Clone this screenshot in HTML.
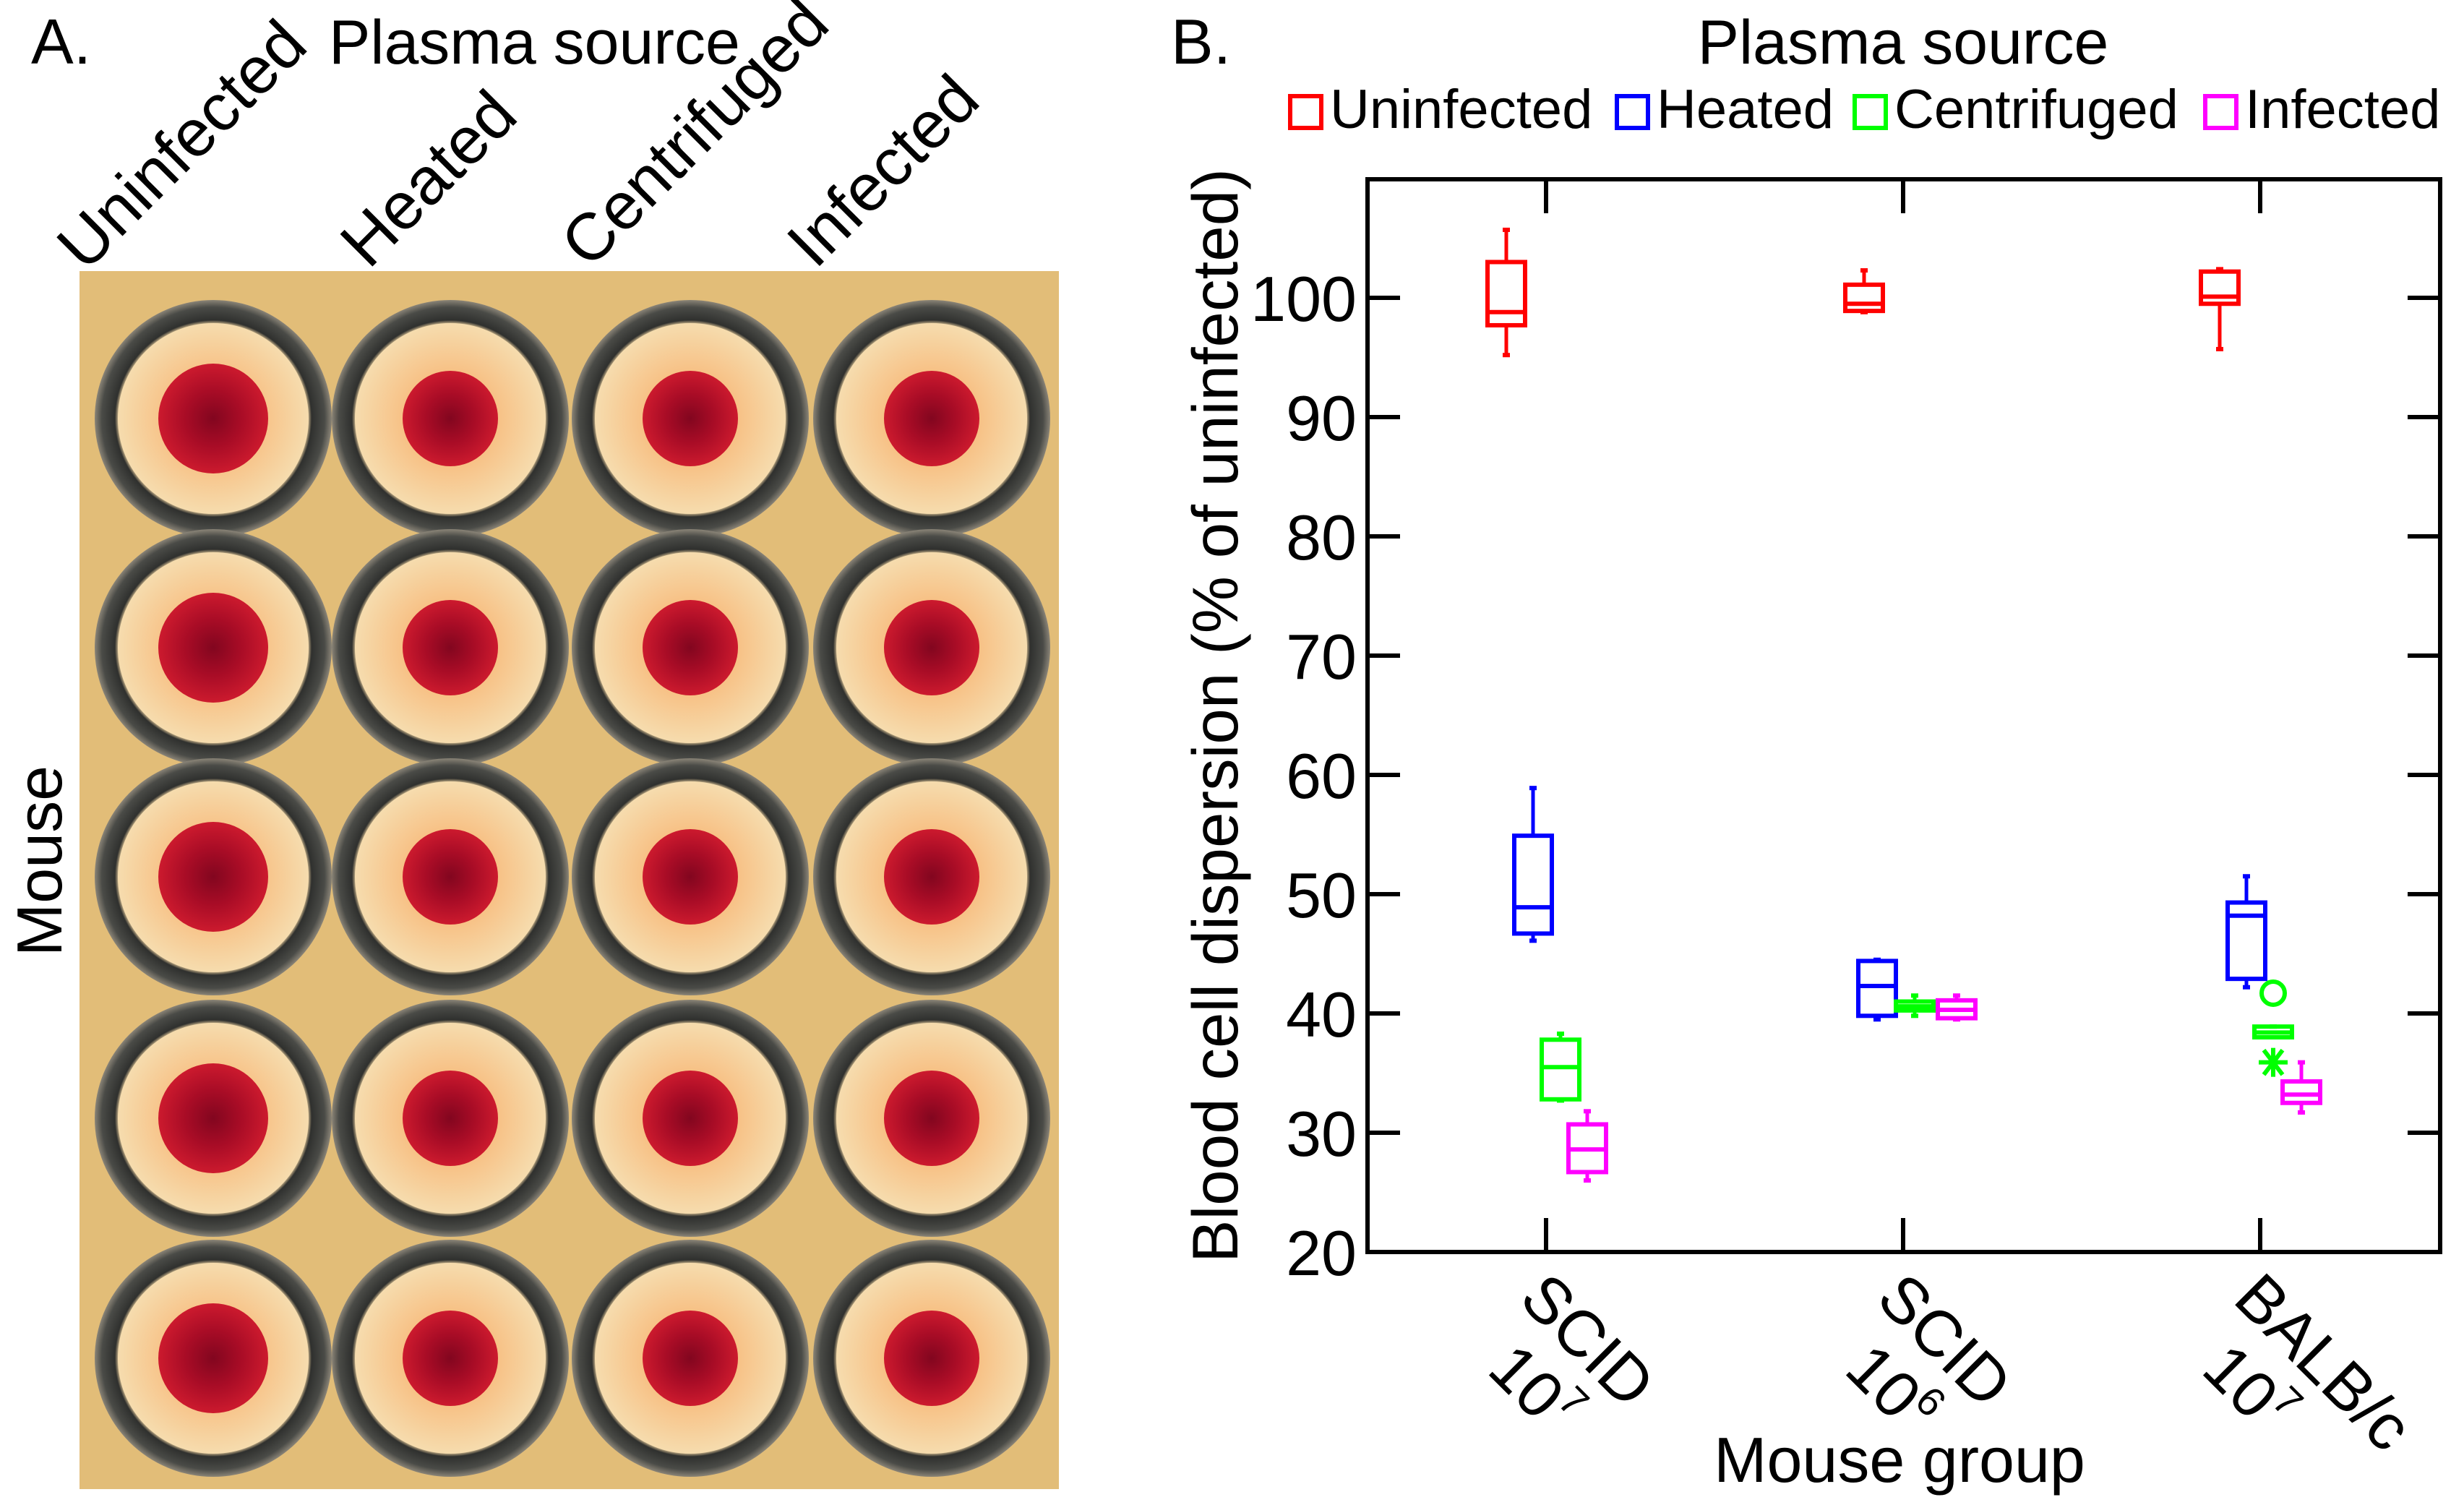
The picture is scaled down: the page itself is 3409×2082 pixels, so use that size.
<!DOCTYPE html>
<html><head><meta charset="utf-8"><style>
html,body{margin:0;padding:0;background:#fff;}
svg{display:block;font-family:"Liberation Sans",Arial,sans-serif;}
</style></head><body>
<svg id="fig" width="3409" height="2082" viewBox="0 0 3409 2082" xmlns="http://www.w3.org/2000/svg">
<defs>
<radialGradient id="inner" cx="50%" cy="50%" r="50%">
<stop offset="0" stop-color="#f6a35a"/><stop offset="0.55" stop-color="#f7c48a"/><stop offset="1" stop-color="#f6dcae"/></radialGradient>
<radialGradient id="spot" cx="50%" cy="50%" r="50%">
<stop offset="0" stop-color="#82061f"/><stop offset="0.5" stop-color="#a80c26"/><stop offset="1" stop-color="#cc1a2e"/></radialGradient>
<radialGradient id="ring" cx="50%" cy="50%" r="50%">
<stop offset="0.80" stop-color="#c9b38a"/><stop offset="0.83" stop-color="#2f302e"/><stop offset="0.94" stop-color="#4a4b47"/><stop offset="1" stop-color="#8a8477"/></radialGradient>
</defs>

<!-- Panel A -->
<text x="43" y="88" font-size="88">A.</text>
<text x="455" y="88" font-size="86">Plasma source</text>
<text transform="translate(118,378) rotate(-45)" font-size="92">Uninfected</text>
<text transform="translate(510,374) rotate(-45)" font-size="92">Heated</text>
<text transform="translate(815,374) rotate(-45)" font-size="92">Centrifuged</text>
<text transform="translate(1128,374) rotate(-45)" font-size="92">Infected</text>
<text transform="translate(85,1191) rotate(-90)" font-size="88" text-anchor="middle">Mouse</text>
<g id="photo">
<rect x="110" y="375" width="1355" height="1685" fill="#e2bd78"/>
</g>

<!-- Panel B -->
<text x="1620" y="88" font-size="88">B.</text>
<text x="2633" y="88" font-size="86" text-anchor="middle">Plasma source</text>
<g id="legend"></g>
<g id="chart"></g>
</svg>
<script>
// ---- chart data ----
const categories = ["SCID 10^7", "SCID 10^6", "BALB/c 10^7"];
const seriesNames = ["Uninfected", "Heated", "Centrifuged", "Infected"];
// each entry: [whiskerLow, q1, median, q3, whiskerHigh]
const uninfected = [[95.2, 97.7, 98.8, 103.0, 105.7], [98.8, 98.9, 99.5, 101.1, 102.3], [95.7, 99.5, 100.1, 102.2, 102.4]];
const heated = [[46.1, 46.7, 48.9, 54.9, 58.9], [39.5, 39.8, 42.3, 44.4, 44.5], [42.2, 42.9, 48.2, 49.3, 51.5]];
const centrifuged = [[32.7, 32.8, 35.5, 37.8, 38.3], [39.8, 40.25, 40.6, 41.0, 41.5], [38.0, 38.0, 38.4, 38.9, 38.9]];
const infected = [[26.0, 26.7, 28.6, 30.7, 31.8], [39.5, 39.6, 40.3, 41.1, 41.5], [31.7, 32.5, 33.2, 34.3, 35.9]];
const outlierCircle = [null, null, [null, null, 41.7, null]];
const outlierStar = [null, null, [null, null, 35.9, null]];
const yTicks = [20, 30, 40, 50, 60, 70, 80, 90, 100];
const yTickLabels = ["20", "30", "40", "50", "60", "70", "80", "90", "100"];
const catLine1 = ["SCID", "SCID", "BALB/c"];
const catExp = ["7", "6", "7"];

const NS = "http://www.w3.org/2000/svg";
const L = 1892, R = 3376, T = 248, B = 1732;
const colors = ["#ff0000", "#0000ff", "#00ff00", "#ff00ff"];
const groupX = [2139, 2633, 3127];
const offsets = [[-55, -18, 20, 57], [-54, -36, 16, 74], [-56, -19, 18, 57]];
const yMin = 20, yMax = 100;
function yScale(v) { return B - (v - yMin) * (B - 412) / (yMax - yMin); }
function xScale(i) { return groupX[i]; }
function el(tag, attrs, parent) {
  const e = document.createElementNS(NS, tag);
  for (const k in attrs) e.setAttribute(k, attrs[k]);
  parent.appendChild(e);
  return e;
}
const chart = document.getElementById("chart");
const frame = el("rect", {x: L, y: T, width: R - L, height: B - T, fill: "none", stroke: "#000", "stroke-width": 6}, chart);


yTicks.forEach((v, i) => {
  const y = yScale(v);
  const t1 = el("line", {x1: L, x2: L + 45, y1: y, y2: y, stroke: "#000", "stroke-width": 6}, chart);
  
  
  const t2 = el("line", {x1: R - 45, x2: R, y1: y, y2: y, stroke: "#000", "stroke-width": 6}, chart);
  
  
  const lb = el("text", {x: 1877, y: y + 32, "font-size": 88, "text-anchor": "end"}, chart);
  lb.textContent = yTickLabels[i];
  
  
});
categories.forEach((c, i) => {
  const x = xScale(i);
  const a = el("line", {x1: x, x2: x, y1: T, y2: T + 47, stroke: "#000", "stroke-width": 6}, chart);
  
  
  const b = el("line", {x1: x, x2: x, y1: B - 47, y2: B, stroke: "#000", "stroke-width": 6}, chart);
  
  
  const g = el("g", {transform: "translate(" + (x - 40) + ",1800) rotate(45)"}, chart);
  
  
  const t1 = el("text", {x: 0, y: 0, "font-size": 90}, g);
  t1.textContent = catLine1[i];
  const t2 = el("text", {x: 38, y: 100, "font-size": 90}, g);
  t2.textContent = "10";
  const t3 = el("text", {x: 38 + 100, y: 62, "font-size": 56}, g);
  t3.textContent = catExp[i];
});
const yt = el("text", {transform: "translate(1712,990) rotate(-90)", "font-size": 89, "text-anchor": "middle"}, chart);
yt.textContent = "Blood cell dispersion (% of uninfected)";


const xt = el("text", {x: 2628, y: 2050, "font-size": 88, "text-anchor": "middle"}, chart);
xt.textContent = "Mouse group";


const series = [uninfected, heated, centrifuged, infected];
const BW = 58;
series.forEach((s, si) => {
  s.forEach((d, gi) => {
    const cx = xScale(gi) + offsets[gi][si];
    const g = el("g", {stroke: colors[si], fill: "none", "stroke-width": 6}, chart);
    
    
    const [wl, q1, md, q3, wh] = d;
    el("line", {x1: cx, x2: cx, y1: yScale(wh), y2: yScale(q3), "stroke-width": 5}, g);
    el("line", {x1: cx, x2: cx, y1: yScale(q1), y2: yScale(wl), "stroke-width": 5}, g);
    el("line", {x1: cx - 5, x2: cx + 5, y1: yScale(wh), y2: yScale(wh), "stroke-width": 6}, g);
    el("line", {x1: cx - 5, x2: cx + 5, y1: yScale(wl), y2: yScale(wl), "stroke-width": 6}, g);
    el("rect", {x: cx - BW / 2 + 3, y: yScale(q3), width: BW - 6, height: Math.max(yScale(q1) - yScale(q3), 1)}, g);
    el("line", {x1: cx - BW / 2 + 3, x2: cx + BW / 2 - 3, y1: yScale(md), y2: yScale(md)}, g);
  });
});
outlierCircle.forEach((o, gi) => {
  if (!o) return;
  o.forEach((v, si) => {
    if (v == null) return;
    const c = el("circle", {cx: xScale(gi) + offsets[gi][si], cy: yScale(v), r: 16, fill: "none", stroke: colors[si], "stroke-width": 6}, chart);
    
    
  });
});
outlierStar.forEach((o, gi) => {
  if (!o) return;
  o.forEach((v, si) => {
    if (v == null) return;
    const cx = xScale(gi) + offsets[gi][si], cy = yScale(v);
    const g = el("g", {stroke: colors[si], "stroke-width": 6}, chart);
    
    
    el("line", {x1: cx - 20, x2: cx + 20, y1: cy, y2: cy}, g);
    el("line", {x1: cx - 13, x2: cx + 13, y1: cy - 17, y2: cy + 17}, g);
    el("line", {x1: cx - 13, x2: cx + 13, y1: cy + 17, y2: cy - 17}, g);
    el("line", {x1: cx, x2: cx, y1: cy - 20, y2: cy + 20}, g);
  });
});
const legend = document.getElementById("legend");
const legSq = [1782, 2234, 2563, 3048];
seriesNames.forEach((n, i) => {
  const g = el("g", {}, legend);
  
  
  el("rect", {x: legSq[i] + 3, y: 133, width: 43, height: 44, fill: "none", stroke: colors[i], "stroke-width": 6}, g);
  const t = el("text", {x: legSq[i] + 58, y: 177, "font-size": 76}, g);
  t.textContent = n;
});
const photo = document.getElementById("photo");
const wx = [295, 623, 955, 1289], wy = [579, 896, 1213, 1547, 1879];
wy.forEach((y, r) => wx.forEach((x, c) => {
  const g = el("g", {}, photo);
  
  
  el("circle", {cx: x, cy: y, r: 164, fill: "url(#ring)"}, g);
  el("circle", {cx: x, cy: y, r: 132, fill: "url(#inner)"}, g);
  const sr = (c === 0) ? 76 : 66;
  el("circle", {cx: x, cy: y, r: sr, fill: "url(#spot)"}, g);
}));
</script>
</body></html>
